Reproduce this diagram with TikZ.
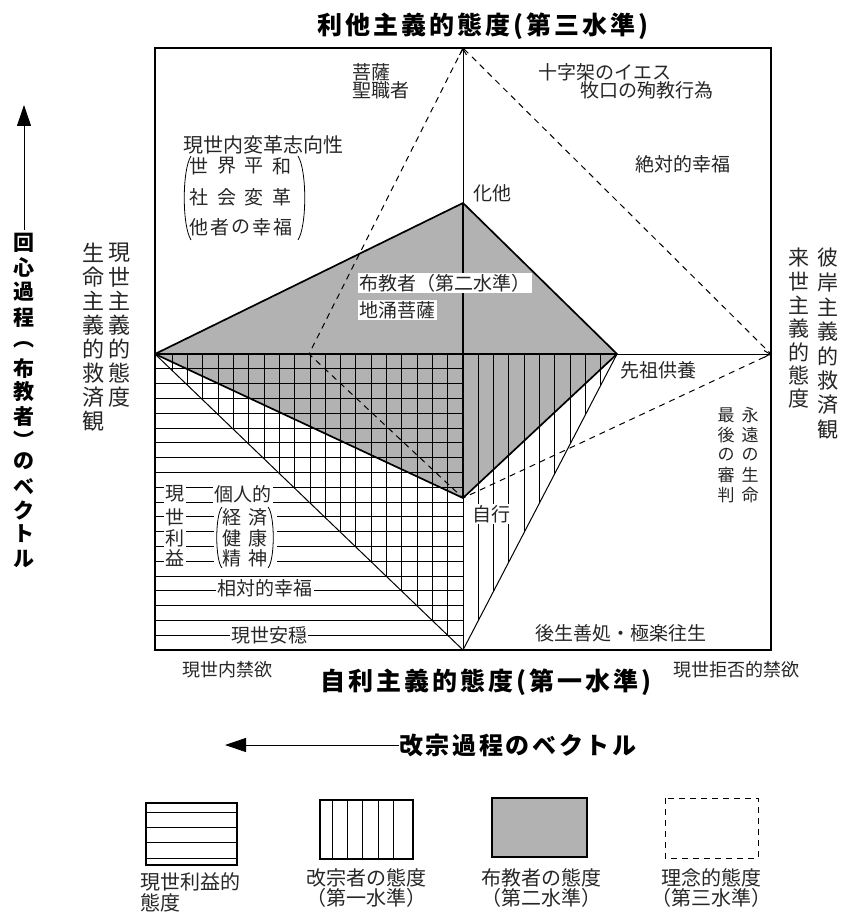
\documentclass[tikz,border=0pt]{standalone}
\usepackage{fontspec}
\newfontfamily\jp{Noto Sans CJK JP}
\newfontfamily\jpb{Noto Sans CJK JP}[LetterSpace=12]
\newfontfamily\jpc{Noto Sans CJK JP}[LetterSpace=11]
\usetikzlibrary{arrows.meta}
\newcommand{\vcol}[6]{\foreach \c [count=\i from 0] in {#6}{\node[#5] (#1\i) at ({#2},{#3+\i*#4}) {\c};}}
\begin{document}
\begin{tikzpicture}[x=1pt,y=-1pt,
  txt/.style={inner sep=0pt, font=\jp\fontsize{19}{19}\selectfont, text=black!85},
  wtxt/.style={txt, fill=white, inner sep=1.2pt},
  stxt/.style={txt, font=\jp\fontsize{18}{18}\selectfont},
  vtxtA/.style={txt, font=\jp\fontsize{22}{22}\selectfont},
  vtxtB/.style={txt, font=\jp\fontsize{21}{21}\selectfont},
  vtxtC/.style={txt, font=\jp\fontsize{17}{17}\selectfont},
  ltxt/.style={txt, font=\jp\fontsize{20}{20}\selectfont},
  btitle/.style={inner sep=0pt, font=\jpb\bfseries\fontsize{25}{25}\selectfont},
  bvec/.style={inner sep=0pt, font=\jpc\bfseries\fontsize{24}{24}\selectfont},
  bvcol/.style={inner sep=0pt, font=\jp\bfseries\fontsize{21}{21}\selectfont},
  kite/.style={line width=1.7pt, line join=round},
  gridl/.style={line width=0.9pt},
  thinl/.style={line width=1pt},
  ideal/.style={line width=1pt, dash pattern=on 6pt off 5pt},
  shade/.style={fill=black!30},
  tipsmall/.style={-{Straight Barb[length=6pt,width=7pt]}},
  tipbig/.style={-{Triangle[length=21pt,width=14pt]}},
]
\useasboundingbox (0,0) rectangle (843,912);

% key points
\coordinate (T) at (463,48);
\coordinate (H) at (463,203);
\coordinate (L) at (155,354);
\coordinate (C) at (463,354);
\coordinate (S) at (617,354);
\coordinate (R) at (771,354);
\coordinate (J) at (463,498);
\coordinate (B) at (463,650);
\coordinate (DL) at (309,354);
\coordinate (BL) at (155,650);
\coordinate (TR) at (771,48);

% shaded kite (second level)
\fill[shade] (L) -- (H) -- (S) -- (J) -- cycle;

% horizontal hatching (lower-left quadrant)
\foreach \k in {1,...,19} \draw[gridl] (155,{354+14.8*\k}) -- (463,{354+14.8*\k});
% vertical hatching
\foreach \k in {1,...,19} {
  \pgfmathsetmacro\xx{463-15.3*\k}
  \pgfmathsetmacro\yy{354+(\xx-155)*0.961}
  \draw[gridl] (\xx,354) -- (\xx,\yy);
}
\foreach \k in {1,...,9} {
  \pgfmathsetmacro\xx{463+15.3*\k}
  \pgfmathsetmacro\yy{354+(617-\xx)*1.922}
  \draw[gridl] (\xx,354) -- (\xx,\yy);
}

% thin lines
\draw[thinl] (L) -- (B);
\draw[thinl] (S) -- (B);
\draw[thinl] (J) -- (B);
\draw[thinl,tipsmall] (S) -- (R);
\draw[thinl,tipsmall] (H) -- (T);

% ideal (dashed) kite
\draw[ideal] (T) -- (DL) -- (J) -- (R) -- cycle;

% kite outline
\draw[kite] (L) -- (H) -- (S) -- (J) -- cycle;
\draw[kite] (L) -- (S);
\draw[kite] (H) -- (J);

% frame
\draw[line width=1.3pt] (T) -| (BL) -| (TR) -- cycle;

% titles
\node[btitle, anchor=west] (top) at (317,26) {利他主義的態度(第三水準)};
\node[btitle, anchor=west] (bot) at (320,682) {自利主義的態度(第一水準)};
\node[bvec, anchor=west] (gaishu) at (399,745) {改宗過程のベクトル};
\coordinate (Ha) at (225,745);
\draw[line width=1pt, tipbig] (gaishu.west) -- (Ha);

% left vertical vector
\coordinate (Lb) at (24,230);
\coordinate (Lt) at (24,105);
\draw[line width=1pt, tipbig] (Lb) -- (Lt);
\foreach \c/\y [count=\i] in {回/243,心/267,過/292,程/318,︵/345,布/368,教/392,者/417,︶/440,の/461,ベ/487,ク/510,ト/534,ル/559}
  \node[bvcol] (kv\i) at (24,\y) {\c};

% left / right side columns
\vcol{lg}{119}{253}{24}{vtxtA}{現,世,主,義,的,態,度}
\vcol{ls}{93}{253}{24}{vtxtA}{生,命,主,義,的,救,済,観}
\vcol{rh}{828}{258}{24.5}{vtxtB}{彼,岸,主,義,的,救,済,観}
\vcol{rr}{799}{258}{23.5}{vtxtB}{来,世,主,義,的,態,度}

% upper quadrant labels
\node[txt, anchor=west] (bosatsu) at (352,72) {菩薩};
\node[txt, anchor=west] (seishoku) at (352,90) {聖職者};
\node[txt, anchor=west] (iesu) at (538,72) {十字架のイエス};
\node[txt, anchor=west] (makiguchi) at (580,90) {牧口の殉教行為};
\node[txt, anchor=west] (zettai) at (635,164) {絶対的幸福};
\node[txt, anchor=west] (keta) at (473,193) {化他};
\node[ltxt, anchor=west] (henkaku) at (183,145) {現世内変革志向性};
\foreach \c/\x [count=\i] in {世/199,界/227,平/254,和/282} \node[txt] (ra\i) at (\x,166) {\c};
\foreach \c/\x [count=\i] in {社/199,会/227,変/254,革/282} \node[txt] (rb\i) at (\x,197) {\c};
\foreach \c/\x [count=\i] in {他/199,者/220,の/241,幸/262,福/283} \node[txt] (rc\i) at (\x,227) {\c};
\draw[line width=0.8pt] (191,156) .. controls (182,170) and (182,226) .. (191,240);
\draw[line width=0.8pt] (298,156) .. controls (307,170) and (307,226) .. (298,240);
\node[wtxt, anchor=west] (fukyo) at (358,283) {布教者（第二水準）};
\node[wtxt, anchor=west] (jiyu) at (358,310) {地涌菩薩};

% right labels
\node[txt, anchor=west] (senzo) at (620,370) {先祖供養};
\vcol{ei}{750}{415}{20}{vtxtC}{永,遠,の,生,命}
\vcol{sa}{726}{415}{20}{vtxtC}{最,後,の,審,判}
\node[wtxt, anchor=west] (jigyo) at (471,514) {自行};
\node[txt, anchor=west] (gosho) at (535,633) {後生善処・極楽往生};

% lower-left labels on the hatching
\foreach \c/\y [count=\i] in {現/494,世/517,利/538,益/558} \node[wtxt] (gr\i) at (175,\y) {\c};
\node[wtxt] (kojin) at (243,494) {個人的};
\fill[white] (214,505) rectangle (277,570);
\draw[line width=0.8pt] (222,507) .. controls (215,515) and (215,560) .. (222,568);
\draw[line width=0.8pt] (268,507) .. controls (275,515) and (275,560) .. (268,568);
\node[txt] (kei) at (232,517) {経};
\node[txt] (zai) at (258,517) {済};
\node[txt] (ken) at (232,538) {健};
\node[txt] (ko) at (258,538) {康};
\node[txt] (sei) at (232,558) {精};
\node[txt] (shin) at (258,558) {神};
\node[wtxt] (sotai) at (265,588) {相対的幸福};
\node[wtxt] (annon) at (269,635) {現世安穏};

% below the frame
\node[stxt, anchor=west] (naikin) at (182,670) {現世内禁欲};
\node[stxt, anchor=west] (kyohi) at (673,670) {現世拒否的禁欲};

% legend
\draw[line width=1.2pt] (146,803) rectangle (237,865);
\foreach \y in {812.7,827.7,842.7,858.3} \draw[gridl] (146,\y) -- (237,\y);
\draw[line width=1.2pt] (320,800) rectangle (413,859);
\foreach \x in {332,347,362,378,393} \draw[gridl] (\x,800) -- (\x,859);
\draw[line width=1.6pt, shade] (492,798) rectangle (587,857);
\draw[ideal] (665,798) rectangle (758,858);
\node[ltxt, anchor=west] (lg1a) at (140,882) {現世利益的};
\node[ltxt, anchor=west] (lg1b) at (140,903) {態度};
\node[ltxt] (lg2a) at (366,878) {改宗者の態度};
\node[ltxt] (lg2b) at (366,898) {（第一水準）};
\node[ltxt] (lg3a) at (541,878) {布教者の態度};
\node[ltxt] (lg3b) at (541,898) {（第二水準）};
\node[ltxt] (lg4a) at (711,878) {理念的態度};
\node[ltxt] (lg4b) at (711,898) {（第三水準）};
\end{tikzpicture}
\end{document}
